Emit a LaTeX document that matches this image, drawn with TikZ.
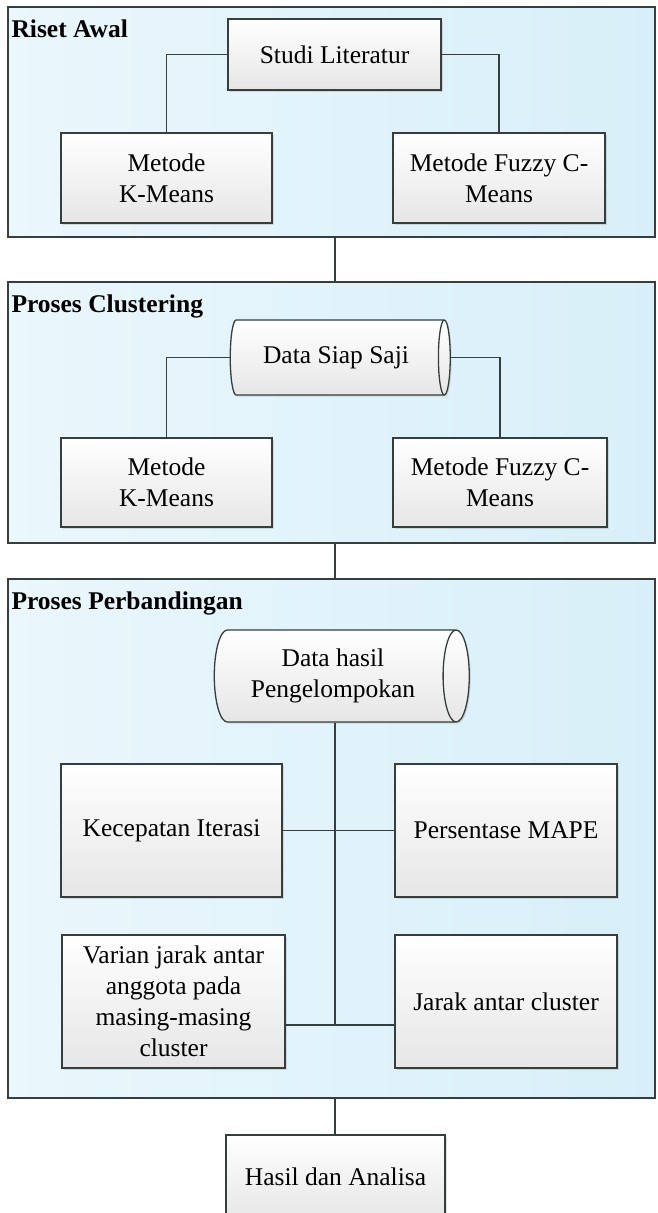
\documentclass[tikz,border=0pt]{standalone}
\usepackage{fontspec}
\setmainfont{Liberation Serif}
\usepackage{xcolor}
\usepackage{tikz}
\usetikzlibrary{shapes,shapes.geometric,shadows,calc}

\definecolor{panellight}{RGB}{234,247,252}
\definecolor{panelfill}{RGB}{216,239,249}
\definecolor{edgecol}{RGB}{55,62,62}
\definecolor{boxbottom}{RGB}{230,230,230}

\begin{document}
\begin{tikzpicture}[x=1pt, y=-1pt,
    panel/.style={draw=edgecol, line width=1.3pt, left color=panellight, right color=panelfill, minimum width=647pt, inner sep=0pt},
    box/.style={draw=edgecol, line width=1.3pt, top color=white, bottom color=boxbottom, drop shadow={opacity=0.25, shadow xshift=1.5pt, shadow yshift=-1.5pt}, align=center, inner sep=2pt, font=\fontsize{25.5}{31}\selectfont},
    store/.style={box, cylinder, shape aspect=0.45},
    lbl/.style={font=\fontsize{25.5}{31}\selectfont\bfseries, inner sep=0pt, anchor=base west},
    link/.style={draw=edgecol, line width=1.4pt}
]
    \useasboundingbox (0,0) rectangle (657,1213);

    % the three stage panels
    \node[panel, minimum height=230pt] (riset) at (331.5,122) {};
    \node[panel, minimum height=261pt] (clust) at (331.5,412.5) {};
    \node[panel, minimum height=519pt] (banding) at (331.5,838.5) {};

    \node[lbl] (lriset) at ([shift={(4,31)}]riset.north west) {Riset Awal};
    \node[lbl] (lclust) at ([shift={(4,31)}]clust.north west) {Proses Clustering};
    \node[lbl] (lbanding) at ([shift={(4,31)}]banding.north west) {Proses Perbandingan};

    % Riset Awal
    \node[box, minimum width=213pt, minimum height=71pt] (studi) at (334.5,54.5) {Studi Literatur};
    \node[box, minimum width=211pt, minimum height=90pt] (km1) at (166.5,178) {Metode\\K-Means};
    \node[box, minimum width=212pt, minimum height=90pt] (fcm1) at (499,178) {Metode Fuzzy C-\\Means};

    % Proses Clustering
    \node[store, minimum height=220pt, minimum width=75pt] (siap) at (336,357.5) {Data Siap Saji};
    \node[box, minimum width=211pt, minimum height=89pt] (km2) at (166.5,482.5) {Metode\\K-Means};
    \node[box, minimum width=214pt, minimum height=89pt] (fcm2) at (500,482.5) {Metode Fuzzy C-\\Means};

    % Proses Perbandingan
    \node[store, minimum height=255pt, minimum width=92pt] (hasilkel) at (333,676) {Data hasil\\Pengelompokan};
    \node[box, minimum width=221pt, minimum height=133pt] (kec) at (171.5,830.5) {Kecepatan Iterasi};
    \node[box, minimum width=222pt, minimum height=133pt] (mape) at (506,830.5) {Persentase MAPE};
    \node[box, minimum width=223pt, minimum height=133pt] (var) at (173.5,1001.5) {Varian jarak antar\\anggota pada\\masing-masing\\cluster};
    \node[box, minimum width=222pt, minimum height=133pt] (jarak) at (506,1001.5) {Jarak antar cluster};

    \node[box, minimum width=219pt, minimum height=84pt] (hasil) at (335.5,1177) {Hasil dan Analisa};

    \coordinate (simpul) at (335,1025);

    % connectors
    \draw[link] (studi.west) -| (km1.north);
    \draw[link] (studi.east) -| (fcm1.north);
    \draw[link] (simpul |- riset.south) -- (simpul |- clust.north);
    \draw[link] (siap.west) -| (km2.north);
    \draw[link] (siap.east) -| (fcm2.north);
    \draw[link] (simpul |- clust.south) -- (simpul |- banding.north);
    \draw[link] (hasilkel.south -| simpul) -- (simpul);
    \draw[link] (kec.east) -- (mape.west);
    \draw[link] (var.east |- simpul) -- (jarak.west |- simpul);
    \draw[link] (simpul |- banding.south) -- (hasil.north -| simpul);

\end{tikzpicture}
\end{document}
